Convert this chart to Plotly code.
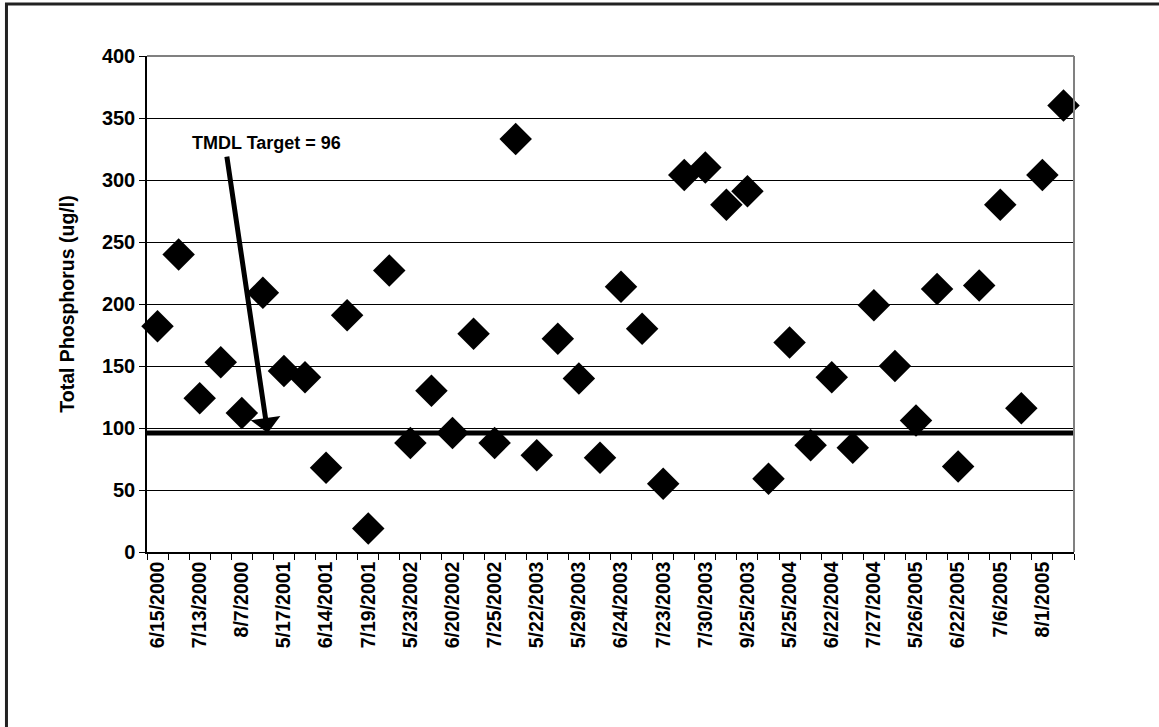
import plotly.graph_objects as go

# ---- data ----
tick_labels = ["6/15/2000", "7/13/2000", "8/7/2000", "5/17/2001", "6/14/2001",
               "7/19/2001", "5/23/2002", "6/20/2002", "7/25/2002", "5/22/2003",
               "5/29/2003", "6/24/2003", "7/23/2003", "7/30/2003", "9/25/2003",
               "5/25/2004", "6/22/2004", "7/27/2004", "5/26/2005", "6/22/2005",
               "7/6/2005", "8/1/2005"]
phosphorus = [182, 240, 124, 153, 112, 209, 146, 141, 68, 191,
              19, 227, 88, 130, 96, 176, 88, 333, 78, 172,
              140, 76, 214, 180, 55, 304, 310, 280, 291, 59,
              169, 86, 141, 84, 199, 150, 106, 212, 69, 215,
              280, 116, 304, 360]
tmdl_target = 96
y_ticks = [0, 50, 100, 150, 200, 250, 300, 350, 400]

n = len(phosphorus)
x_pos = list(range(1, n + 1))
label_pos = x_pos[::2]
boundaries = [i + 0.5 for i in range(0, n + 1)]

FONT = "Liberation Sans, Arial, sans-serif"

fig = go.Figure()

# TMDL target line
fig.add_trace(go.Scatter(
    x=[0.45, n + 0.55], y=[tmdl_target, tmdl_target], mode="lines",
    line=dict(color="black", width=5), hoverinfo="skip", showlegend=False,
    cliponaxis=False))

# data points
fig.add_trace(go.Scatter(
    x=x_pos, y=phosphorus, mode="markers",
    marker=dict(symbol="diamond", size=25, color="black", line=dict(width=0)),
    showlegend=False, cliponaxis=False))

fig.update_layout(
    width=1159, height=727,
    margin=dict(l=147, r=85, t=56, b=175),
    paper_bgcolor="white", plot_bgcolor="white",
    font=dict(family=FONT, color="black", size=19),
    xaxis=dict(
        range=[0.5, n + 0.5], tickmode="array", tickvals=label_pos,
        ticktext=tick_labels, tickangle=-90, ticks="",
        tickfont=dict(family=FONT, size=19.5, weight="bold"),
        showgrid=False, zeroline=False, showline=True, linecolor="black",
        linewidth=1.5,
        minor=dict(tickmode="array", tickvals=boundaries, ticks="outside",
                   ticklen=6, tickcolor="black", tickwidth=1, showgrid=False),
    ),
    yaxis=dict(
        range=[0, 400], tickmode="array", tickvals=y_ticks,
        ticks="outside", ticklen=6, tickcolor="black",
        tickfont=dict(family=FONT, size=20, weight="bold"),
        showgrid=True, gridcolor="black", gridwidth=1, zeroline=False,
        showline=True, linecolor="black", linewidth=1.5,
        title=dict(text="Total Phosphorus (ug/l)", standoff=22,
                   font=dict(family=FONT, size=19.5, weight="bold")),
    ),
    shapes=[
        # gray plot-area border on top and right
        dict(type="line", xref="paper", yref="paper", x0=0, x1=1, y0=1, y1=1,
             line=dict(color="#808080", width=2)),
        dict(type="line", xref="paper", yref="paper", x0=1, x1=1, y0=0, y1=1,
             line=dict(color="#808080", width=2)),
        # outer chart frame (only its top and left edges fall inside the image)
        dict(type="rect", xref="paper", yref="paper",
             x0=-0.1516, x1=1.1, y0=-0.365, y1=1.1048,
             line=dict(color="#222222", width=3), layer="above"),
    ],
    annotations=[
        dict(x=6.23, y=tmdl_target, xref="x", yref="y",
             ax=4.28, ay=320, axref="x", ayref="y", text="",
             showarrow=True, arrowhead=1, arrowsize=1.0, arrowwidth=5,
             arrowcolor="black"),
        dict(x=6.17, y=330, xref="x", yref="y", text="TMDL Target = 96",
             showarrow=False,
             font=dict(family=FONT, size=18, weight="bold", color="black")),
    ],
)

fig.write_html("out.html")
